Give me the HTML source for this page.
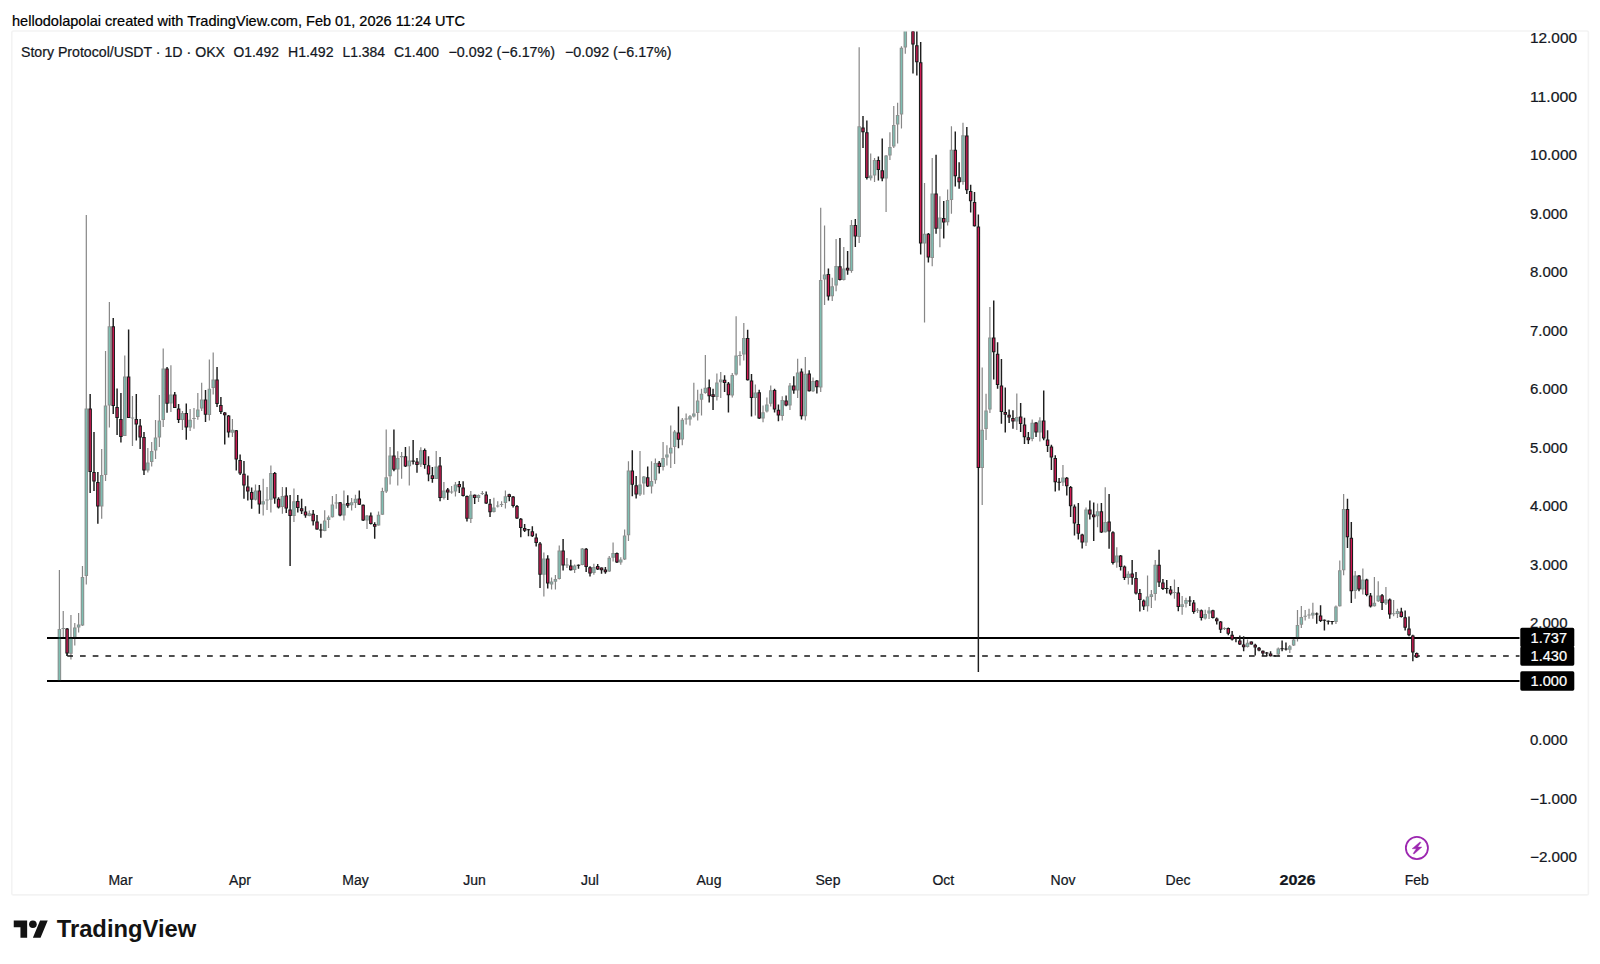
<!DOCTYPE html>
<html><head><meta charset="utf-8"><title>Story Protocol/USDT chart</title>
<style>html,body{margin:0;padding:0;background:#fff}svg{display:block}text{font-family:"Liberation Sans",sans-serif;stroke-width:.22px;paint-order:stroke}.d{stroke:#131722}.k{stroke:#000}.w{stroke:#fff}</style></head><body>
<svg width="1600" height="964" viewBox="0 0 1600 964">
<rect width="1600" height="964" fill="#fff"/>
<defs><clipPath id="cp"><rect x="12" y="31.5" width="1576" height="863"/></clipPath></defs>
<text class="k" x="12" y="25.5" font-size="14.3" fill="#000" textLength="453" lengthAdjust="spacingAndGlyphs">hellodolapolai created with TradingView.com, Feb 01, 2026 11:24 UTC</text>
<rect x="11.8" y="31" width="1576.6" height="863.9" rx="1.5" fill="none" stroke="#f3f3f3" stroke-width="1.6"/>
<text class="d" x="21" y="56.6" font-size="14" fill="#131722" textLength="204" lengthAdjust="spacingAndGlyphs">Story Protocol/USDT · 1D · OKX</text>
<text class="d" x="233.5" y="56.6" font-size="14" fill="#131722" textLength="45.5" lengthAdjust="spacingAndGlyphs">O1.492</text>
<text class="d" x="288" y="56.6" font-size="14" fill="#131722" textLength="45.5" lengthAdjust="spacingAndGlyphs">H1.492</text>
<text class="d" x="342.5" y="56.6" font-size="14" fill="#131722" textLength="42.5" lengthAdjust="spacingAndGlyphs">L1.384</text>
<text class="d" x="394" y="56.6" font-size="14" fill="#131722" textLength="45" lengthAdjust="spacingAndGlyphs">C1.400</text>
<text class="d" x="448.5" y="56.6" font-size="14" fill="#131722" textLength="106.5" lengthAdjust="spacingAndGlyphs">−0.092 (−6.17%)</text>
<text class="d" x="565" y="56.6" font-size="14" fill="#131722" textLength="106.5" lengthAdjust="spacingAndGlyphs">−0.092 (−6.17%)</text>
<g clip-path="url(#cp)">
<path d="M47 638H1519.5M47 681H1519.5" stroke="#000" stroke-width="2.1" fill="none"/>
<path d="M67.3 656H1519.5" stroke="#151515" stroke-width="1.3" stroke-dasharray="5.7 7.006" fill="none"/>
<path d="M67 653V656" stroke="#1e1e1e" stroke-width="1.1" fill="none"/>
<g opacity="0.5">
<path d="M59.4 570V681M63.24 611V637.5M70.94 615V659.4M74.78 623V645.6M78.62 613V632.5M82.47 566V626M86.31 215V584.4M101.69 449V518.75M105.54 351V481M109.38 302V427.5M124.77 355.6V436M132.46 396V446M147.84 448V472.5M151.68 442V466.5M155.53 420V459M159.37 395V447M163.22 348.5V427M170.91 365.25V412M182.44 411V430M190.13 409V431M193.98 408V428.75M197.82 393V419.75M201.67 382.75V411M209.36 359.4V420.6M213.2 352.5V394.4M232.43 419V437M255.5 484.4V500.5M263.19 478.75V515.6M267.03 487V510M270.88 465.6V512.5M282.41 487V513.75M293.94 488.5V522M309.32 510.6V516.25M324.7 510.25V531.25M328.55 515.6V528M332.39 496V517.5M336.24 494V508.75M343.93 490.6V520.6M351.62 498V510.6M355.46 494.75V508M367 515V529M378.53 511.5V525.6M382.38 487.75V514.75M386.22 429.4V493M390.07 447V484.4M397.76 451.25V485.6M401.61 452V478.75M409.3 446.25V485.6M420.83 447.25V467M436.21 451V479M443.9 482V499.4M451.59 486V493.75M455.44 482V496.5M470.81 491V523M478.5 494.4V502M482.35 491V495M493.88 497.75V512.5M497.73 501.25V507.5M501.57 501.25V507M505.42 490.6V508.5M543.87 552.5V596.5M551.56 577.5V589.4M555.41 575V589.4M559.25 545.6V579.5M566.94 558V568M574.63 564.4V573M582.32 548V565.25M593.86 563.75V574.75M609.24 556V572M613.08 542.5V561.5M620.77 557.25V564.75M624.62 529.4V560M628.46 461.25V541M640 451V496M643.84 476V494.75M651.53 461.25V493.5M655.38 458.5V483.75M663.07 442V470.6M666.91 445.25V465.6M670.75 425.6V468M674.6 430V464M682.29 418V445.3M686.13 413.5V424.4M689.98 415V425.6M693.83 382.75V417.5M697.67 389.75V420.6M701.51 388.75V415.6M705.36 355V393.75M716.89 373.5V400.6M720.74 372V398M732.27 373V397.5M736.12 316.25V375.6M739.97 351.25V365.6M743.81 323V360.6M755.35 384.4V415.6M763.03 405.6V422.25M766.88 397.5V412.5M770.73 385.6V406.5M782.26 396.25V420.6M789.95 383V410M797.64 358.75V398M805.33 357V420.6M813.02 377.5V392M820.71 207.75V392M824.56 225.6V305M832.25 277.75V301M836.09 239V291.25M843.78 247V280.5M851.47 220V272.75M859.16 47.25V243M870.7 153.5V180.6M874.54 158V182M886.08 155V212M889.92 132.25V160M893.76 106V148M897.61 102.75V143.5M901.46 46.25V128.5M905.3 10V53.75M909.14 -40V10M924.52 183V322.5M932.22 158V266.25M939.9 196.25V247.25M947.6 189.4V225.6M951.44 126.25V213.75M962.98 122.75V184.75M982.2 367.5V505M986.05 393.75V440M989.89 307V413M1016.81 393.5V430M1032.19 419.4V441.25M1039.88 417.25V441.5M1062.95 465V486M1086.02 507.5V546M1097.55 503.5V527.25M1105.24 487.25V532.5M1116.78 547.25V567.75M1128.31 571.25V584.4M1147.54 575.6V611.5M1151.38 590V608M1155.23 560V600.6M1174.45 579.4V598.75M1182.14 596V614.75M1185.99 597.75V607.5M1197.52 608V613M1205.21 609.75V619.4M1209.06 606.9V619M1224.44 627.25V630M1247.51 639.4V647.5M1278.27 647.5V656.25M1289.8 645V653M1293.65 638.75V646M1297.49 610V641.5M1301.34 606V628M1305.18 610V620.6M1309.03 608.75V618.75M1312.87 602.75V618.75M1335.94 605.6V624M1339.79 560.6V606.5M1343.63 494V575.25M1355.17 571V598.75M1362.86 568.5V594.6M1374.39 577V606.5M1378.24 581.25V601.9M1385.93 587V605M1393.62 600V616.25M1397.46 608.75V618" stroke="#101010" stroke-width="1.2" fill="none"/>
<path d="M59.4 629V681M63.24 627.9V629.1M70.94 637.5V653.7M74.78 627.5V637.5M78.62 624.6V627.4M82.47 577V625.6M86.31 408.5V576M101.69 475V506.5M105.54 405.6V475M109.38 326.25V405.6M124.77 376.5V436M132.46 417.4V418.6M147.84 462.5V470.6M151.68 451V462M155.53 437.5V450.6M159.37 420.6V437.5M163.22 368.5V420M170.91 394.5V403.5M182.44 413V420M190.13 419.75V427.5M193.98 417.9V419.1M197.82 409.4V417M201.67 399.4V408.5M209.36 388.75V415M213.2 379.4V388M232.43 429.85V432.65M255.5 490.6V499.75M263.19 501.25V504.4M267.03 499.4V500.6M270.88 473V499.75M282.41 496V507M293.94 501.25V516M309.32 513.27V516.07M324.7 520.6V531M328.55 517.23V520.02M332.39 504.4V517.25M336.24 502.4V503.6M343.93 503.75V515.6M351.62 502.35V505.15M355.46 498.75V503M367 515.6V520.6M378.53 514.75V525.6M382.38 491V514.75M386.22 477.25V491.5M390.07 455.6V476.25M397.76 458V469.4M401.61 456.02V457.23M409.3 460.6V466.25M420.83 450.25V464.4M436.21 466.5V479M443.9 490.6V498M451.59 491.4V492.6M455.44 484.4V491.5M470.81 494.75V519M478.5 495V498M482.35 492.9V494.1M493.88 507.5V512M497.73 505.4V506.6M501.57 503.9V505.1M505.42 496.25V503M543.87 558.5V574.75M551.56 581.6V584.4M555.41 579.05V581.85M559.25 550.6V579M566.94 564.4V565.6M574.63 565.6V570M582.32 548.5V565M593.86 567V573M609.24 557.75V571.5M613.08 553V557.75M620.77 559.4V562.5M624.62 535.6V559.4M628.46 470.6V535.25M640 484.4V494.4M643.84 476.5V483.5M651.53 481V486.5M655.38 463V480.25M663.07 458V467M666.91 454.4V457.5M670.75 447.75V453.5M674.6 431.5V447M682.29 419.75V439.4M686.13 418.4V419.6M689.98 416.25V419.4M693.83 413.5V416.5M697.67 400.6V413M701.51 393.75V399.75M705.36 387.75V393M716.89 382.5V397M720.74 379.4V382.25M732.27 375V395.6M736.12 355.6V374.4M739.97 354.9V356.1M743.81 338V354.4M755.35 392.5V398M763.03 412.25V418.5M766.88 404.4V411.5M770.73 390.25V403.75M782.26 400V416M789.95 385.6V405.6M797.64 372.5V390.6M805.33 373.75V416.25M813.02 381V391.25M820.71 280V387.5M824.56 274.4V279.4M832.25 286.25V296.25M836.09 266V285.6M843.78 268.5V280M851.47 225V271M859.16 126.25V237M870.7 175.4V178.2M874.54 160V175.6M886.08 155.6V178.5M889.92 147V155.6M893.76 125V146.5M897.61 115V124.4M901.46 47.75V114.4M905.3 15V47.5M909.14 -30V5M924.52 233.75V243.5M932.22 193.5V258M939.9 217.5V228.75M947.6 200V222.25M951.44 149.75V200M962.98 135.25V182M982.2 429.75V468M986.05 410.6V429M989.89 337.5V409.4M1016.81 417V421.5M1032.19 422.75V439M1039.88 420.6V432.5M1062.95 477.5V482.5M1086.02 509.4V542.5M1097.55 511.25V516.25M1105.24 521.9V532.25M1116.78 555.6V562.5M1128.31 573.75V578M1147.54 596.5V606.25M1151.38 594.25V597.05M1155.23 564.75V594M1174.45 591.9V593.1M1182.14 604.25V607.05M1185.99 600V603.75M1197.52 609.65V610.85M1205.21 614V618.5M1209.06 610.6V613.5M1224.44 627.9V629.1M1247.51 642.75V646.9M1278.27 648.5V654.4M1289.8 646.25V649.75M1293.65 639.4V645.6M1297.49 625V638M1301.34 616.9V624.75M1305.18 615.65V616.85M1309.03 614.4V615.6M1312.87 612.73V615.52M1335.94 606.5V621.9M1339.79 570.25V606.25M1343.63 509V570.25M1355.17 575.6V591M1362.86 579.4V589.5M1374.39 602.75V606.25M1378.24 595.6V601.25M1385.93 599.4V603.5M1393.62 613.15V614.35M1397.46 611.1V613.9" stroke="#1c2422" stroke-width="3.5" fill="none"/>
<path d="M59.4 630V680M70.94 638.5V652.7M74.78 628.5V636.5M78.62 625.6V626.4M82.47 578V624.6M86.31 409.5V575M101.69 476V505.5M105.54 406.6V474M109.38 327.25V404.6M124.77 377.5V435M147.84 463.5V469.6M151.68 452V461M155.53 438.5V449.6M159.37 421.6V436.5M163.22 369.5V419M170.91 395.5V402.5M182.44 414V419M190.13 420.75V426.5M197.82 410.4V416M201.67 400.4V407.5M209.36 389.75V414M213.2 380.4V387M232.43 430.85V431.65M255.5 491.6V498.75M263.19 502.25V503.4M270.88 474V498.75M282.41 497V506M293.94 502.25V515M309.32 514.27V515.07M324.7 521.6V530M328.55 518.23V519.02M332.39 505.4V516.25M343.93 504.75V514.6M351.62 503.35V504.15M355.46 499.75V502M367 516.6V519.6M378.53 515.75V524.6M382.38 492V513.75M386.22 478.25V490.5M390.07 456.6V475.25M397.76 459V468.4M409.3 461.6V465.25M420.83 451.25V463.4M436.21 467.5V478M443.9 491.6V497M455.44 485.4V490.5M470.81 495.75V518M478.5 496V497M493.88 508.5V511M505.42 497.25V502M543.87 559.5V573.75M551.56 582.6V583.4M555.41 580.05V580.85M559.25 551.6V578M574.63 566.6V569M582.32 549.5V564M593.86 568V572M609.24 558.75V570.5M613.08 554V556.75M620.77 560.4V561.5M624.62 536.6V558.4M628.46 471.6V534.25M640 485.4V493.4M643.84 477.5V482.5M651.53 482V485.5M655.38 464V479.25M663.07 459V466M666.91 455.4V456.5M670.75 448.75V452.5M674.6 432.5V446M682.29 420.75V438.4M689.98 417.25V418.4M693.83 414.5V415.5M697.67 401.6V412M701.51 394.75V398.75M705.36 388.75V392M716.89 383.5V396M720.74 380.4V381.25M732.27 376V394.6M736.12 356.6V373.4M743.81 339V353.4M755.35 393.5V397M763.03 413.25V417.5M766.88 405.4V410.5M770.73 391.25V402.75M782.26 401V415M789.95 386.6V404.6M797.64 373.5V389.6M805.33 374.75V415.25M813.02 382V390.25M820.71 281V386.5M824.56 275.4V278.4M832.25 287.25V295.25M836.09 267V284.6M843.78 269.5V279M851.47 226V270M859.16 127.25V236M870.7 176.4V177.2M874.54 161V174.6M886.08 156.6V177.5M889.92 148V154.6M893.76 126V145.5M897.61 116V123.4M901.46 48.75V113.4M905.3 16V46.5M909.14 -29V4M924.52 234.75V242.5M932.22 194.5V257M939.9 218.5V227.75M947.6 201V221.25M951.44 150.75V199M962.98 136.25V181M982.2 430.75V467M986.05 411.6V428M989.89 338.5V408.4M1016.81 418V420.5M1032.19 423.75V438M1039.88 421.6V431.5M1062.95 478.5V481.5M1086.02 510.4V541.5M1097.55 512.25V515.25M1105.24 522.9V531.25M1116.78 556.6V561.5M1128.31 574.75V577M1147.54 597.5V605.25M1151.38 595.25V596.05M1155.23 565.75V593M1182.14 605.25V606.05M1185.99 601V602.75M1205.21 615V617.5M1209.06 611.6V612.5M1247.51 643.75V645.9M1278.27 649.5V653.4M1289.8 647.25V648.75M1293.65 640.4V644.6M1297.49 626V637M1301.34 617.9V623.75M1312.87 613.73V614.52M1335.94 607.5V620.9M1339.79 571.25V605.25M1343.63 510V569.25M1355.17 576.6V590M1362.86 580.4V588.5M1374.39 603.75V605.25M1378.24 596.6V600.25M1385.93 600.4V602.5M1397.46 612.1V612.9" stroke="#008068" stroke-width="1.35" fill="none"/>
</g>
<path d="M67.09 628V656M90.16 394V493M94 432V491M97.85 472V523.75M113.23 318V414M117.08 388.5V435M120.92 393V442.5M128.61 329.4V418M136.3 394V440.6M140.15 419V449M143.99 432V475M167.06 367V412.75M174.75 392V408M178.59 404V423M186.28 403.5V439.75M205.51 390V422M217.05 367V407M220.89 397V414M224.74 412V444.4M228.58 415V437.5M236.27 430V470.6M240.12 454.4V475M243.96 461V498.75M247.81 475.6V500.6M251.65 487.5V508.75M259.34 485V513.75M274.72 472V503.75M278.56 497.25V508.5M286.25 487.25V513M290.1 495V566M297.79 495V512.5M301.63 498.75V514M305.48 506.25V517.75M313.17 510V525.6M317.01 515V529.75M320.86 523.75V537.75M340.08 501.9V516.25M347.77 495.25V507.75M359.31 490.6V505M363.15 504.4V521M370.84 512.5V524.4M374.69 522.25V538.75M393.92 429.4V471.25M405.45 447V467M413.14 440V464.4M416.99 458V472.75M424.68 448.5V468.75M428.52 456.25V481.25M432.37 467V482.75M440.06 457V501.25M447.75 488V500M459.28 481V493M463.12 481.25V496.5M466.97 495.6V521.5M474.66 494.4V504M486.19 491.5V504M490.04 499V517M509.26 493.75V501.25M513.11 496V507.5M516.96 505V519M520.8 518V537.25M524.64 524V532M528.49 529V536.25M532.34 526.25V537M536.18 533.5V546.5M540.02 542V588M547.72 555.25V588.5M563.1 539V570.6M570.79 559.75V570.5M578.48 564.5V568.75M586.16 548V572M590.01 566.25V576.5M597.7 564V570M601.54 567.48V573.75M605.39 567V573.75M616.92 552.5V563M632.3 450.25V496.25M636.15 476V498.5M647.69 466.5V487M659.22 461V473.5M678.45 406.5V448.25M709.21 379.4V402.5M713.05 388.75V410M724.59 375.25V392M728.43 382V412.5M747.65 329.75V380.6M751.5 374V416.5M759.19 389.75V419M774.57 388.75V412.5M778.41 404.4V421.25M786.11 395.6V406.25M793.79 376.25V393.75M801.49 368.5V419.4M809.18 370.25V391.5M816.87 380V393.5M828.4 268.5V300.6M839.94 238V280.5M847.62 251V274.75M855.32 219V247M863 116V148M866.85 120.6V179.4M878.38 156.5V180.6M882.23 138.5V181.25M912.99 5V73.5M916.84 20V75.6M920.68 42V254.4M928.37 233V262.5M936.06 154.75V233.75M943.75 201V238.5M955.28 131.5V186.5M959.13 162.25V188.75M966.82 127V194M970.67 184.75V212.5M974.51 192V226.5M978.36 214.4V672M993.74 300.6V379.4M997.58 342.25V388.75M1001.43 359V423.75M1005.27 387.5V432.5M1009.12 409.4V423M1012.96 410.25V428.75M1020.65 403V432M1024.5 417.75V444M1028.34 432V444M1036.03 422V437M1043.72 390.6V440.25M1047.57 430.25V452M1051.41 444.75V470M1055.26 455.25V491.5M1059.1 478V490.6M1066.79 477V495.6M1070.63 486V517M1074.48 504.4V535.6M1078.33 503V539.4M1082.17 533.75V548.5M1089.86 500.6V519.4M1093.71 502.5V541M1101.4 503V533M1109.09 494V548.75M1112.93 531.25V564.4M1120.62 555V570.6M1124.47 565.6V580M1132.16 560V584.75M1136 571.9V594.4M1139.85 589V611.5M1143.69 599.4V610M1159.07 549.75V586.9M1162.92 579V590M1166.76 580V593.5M1170.61 586V595.25M1178.3 586.9V611.25M1189.83 596.25V606M1193.68 600V613.75M1201.37 609.4V620.6M1212.9 609.75V618.5M1216.75 617.5V624.4M1220.59 621V633M1228.28 627.5V635.25M1232.13 631V640.6M1235.97 637.5V642.25M1239.82 635.6V645M1243.66 636.25V651.25M1251.35 641.5V644.4M1255.2 643.75V655.6M1259.04 646.9V651.25M1262.89 650.6V656M1266.73 651.9V656M1270.58 651.25V656.5M1274.42 655V656.6M1282.11 640.6V651.25M1285.96 642.5V650.6M1316.72 612.5V623.75M1320.56 605.25V621.9M1324.41 619.4V630.6M1328.25 620.6V624.4M1332.1 620.9V624.4M1347.48 498.75V548M1351.32 522V603M1359.01 575V591.25M1366.7 578.75V596.25M1370.55 593V607.5M1382.08 594V610M1389.77 598.5V618.75M1401.31 607.75V617.5M1405.15 610.6V630.6M1409 616.5V636.25M1412.84 634.75V661.25M1416.69 652.5V658.1" stroke="#1e1e1e" stroke-width="1.45" fill="none"/>
<path d="M67.09 628.5V653.5M90.16 408.5V472M94 472V481.5M97.85 482V506.5M113.23 326.25V406M117.08 407V418M120.92 419V437M128.61 376.5V418M136.3 419V424.4M140.15 425.6V437.5M143.99 437V470.6M167.06 368.5V403.75M174.75 394.5V408M178.59 408.5V420M186.28 413V427.5M205.51 399.4V414.75M217.05 379.4V404M220.89 405V412M224.74 412.48V415.27M228.58 415.6V432.5M236.27 430.25V459.4M240.12 460V473.5M243.96 473.75V485.6M247.81 486.5V491.5M251.65 492V499.75M259.34 490.6V504.4M274.72 473V498.5M278.56 498.75V507.5M286.25 495.6V508.5M290.1 509.4V516M297.79 501V508M301.63 508.35V511.15M305.48 511.5V515.6M313.17 513.75V521.25M317.01 521.5V529.4M320.86 529.4V530.6M340.08 502.25V515.6M347.77 502.98V505.77M359.31 498.5V504.75M363.15 504.75V520.6M370.84 515.6V524M374.69 523.93V526.73M393.92 455.6V469.75M405.45 456.25V466.5M413.14 460.45V461.65M416.99 461.5V465M424.68 450V465M428.52 465.25V474.4M432.37 475.25V479M440.06 465.6V498M447.75 489.4V492.5M459.28 484V487.25M463.12 487.5V496M466.97 496V518.75M474.66 494.75V498M486.19 494.4V503.5M490.04 503.75V512.25M509.26 494.23V497.02M513.11 496.5V506M516.96 506V518.5M520.8 518.75V528M524.64 527.98V530.77M528.49 529.15V530.35M532.34 531.25V536.25M536.18 537.5V543M540.02 543.5V574.75M547.72 558.5V583.5M563.1 550.6V565.6M570.79 565.6V570.25M578.48 564.65V565.85M586.16 548.75V567M590.01 567.25V573.5M597.7 566V569.4M601.54 567.48V570.27M605.39 569.4V572.25M616.92 553V562.5M632.3 470.6V484.75M636.15 485.25V494.4M647.69 477.25V486.5M659.22 462.75V467M678.45 432.5V439.75M709.21 387.25V396.25M713.05 394.23V397.02M724.59 379.75V383M728.43 383.5V395.25M747.65 338V380.25M751.5 380.6V398M759.19 392.25V418.5M774.57 390V409.4M778.41 409.75V415.6M786.11 400.6V405.6M793.79 385.6V390.6M801.49 371.5V416.25M809.18 373.5V391.25M816.87 380.6V387.25M828.4 274V296.5M839.94 266.25V280M847.62 267.73V270.52M855.32 225V236.5M863 127.5V132.25M866.85 132.25V178M878.38 160V170M882.23 170.25V178.5M912.99 10V44.4M916.84 45.25V62.25M920.68 62.25V243.5M928.37 233.75V257.5M936.06 193.5V228.75M943.75 218V222.5M955.28 149.75V176.25M959.13 177.25V182.25M966.82 135.6V190.25M970.67 191V201.25M974.51 202V226.25M978.36 226.5V468M993.74 337.5V352.25M997.58 353.75V385M1001.43 385.6V411.9M1005.27 412.05V414.85M1009.12 414.73V417.52M1012.96 418V421.5M1020.65 416.5V424M1024.5 424.4V437.25M1028.34 437.35V440.15M1036.03 422.5V432.5M1043.72 420.6V438.5M1047.57 439.4V446M1051.41 446.5V457.5M1055.26 458V482.25M1059.1 481.65V482.85M1066.79 477.75V486.25M1070.63 486.9V506.25M1074.48 506.5V523.5M1078.33 524V533.75M1082.17 534.4V542.5M1089.86 509.4V514.4M1093.71 514.43V517.23M1101.4 511.25V532.5M1109.09 521.5V531.5M1112.93 532.25V563M1120.62 555.6V566.9M1124.47 566.5V578M1132.16 573.5V577.75M1136 578V593.5M1139.85 593V600M1143.69 600.6V606.5M1159.07 564.75V582.5M1162.92 582.5V589M1166.76 587.9V589.1M1170.61 589.4V593.75M1178.3 592.5V606.9M1189.83 600.4V601.6M1193.68 602.5V611.9M1201.37 610.25V618M1212.9 610.25V618M1216.75 618.48V621.27M1220.59 621.5V629.75M1228.28 628V633.75M1232.13 634.75V639.4M1235.97 637.9V639.1M1239.82 640.6V644.4M1243.66 644.4V647.25M1251.35 641.6V644.4M1255.2 644.73V647.52M1259.04 647.75V650.6M1262.89 650.73V653.52M1266.73 652.4V653.6M1270.58 653.48V656.27M1274.42 655.4V656.6M1282.11 648.15V649.35M1285.96 648.4V649.6M1316.72 613.4V614.6M1320.56 615.6V621M1324.41 619.65V620.85M1328.25 620.65V621.85M1332.1 620.9V622.1M1347.48 509V537.25M1351.32 537.75V591.25M1359.01 575.4V589.5M1366.7 579.4V595.1M1370.55 595.6V606.5M1382.08 595.25V603M1389.77 599.4V614.4M1401.31 611.5V616.9M1405.15 617.25V627.75M1409 628.5V635.25M1412.84 635.6V652.5M1416.69 653V657.5" stroke="#1a1a1a" stroke-width="3.5" fill="none"/>
<path d="M67.09 629.5V652.5M90.16 409.5V471M94 473V480.5M97.85 483V505.5M113.23 327.25V405M117.08 408V417M120.92 420V436M128.61 377.5V417M136.3 420V423.4M140.15 426.6V436.5M143.99 438V469.6M167.06 369.5V402.75M174.75 395.5V407M178.59 409.5V419M186.28 414V426.5M205.51 400.4V413.75M217.05 380.4V403M220.89 406V411M224.74 413.48V414.27M228.58 416.6V431.5M236.27 431.25V458.4M240.12 461V472.5M243.96 474.75V484.6M247.81 487.5V490.5M251.65 493V498.75M259.34 491.6V503.4M274.72 474V497.5M278.56 499.75V506.5M286.25 496.6V507.5M290.1 510.4V515M297.79 502V507M301.63 509.35V510.15M305.48 512.5V514.6M313.17 514.75V520.25M317.01 522.5V528.4M340.08 503.25V514.6M347.77 503.98V504.77M359.31 499.5V503.75M363.15 505.75V519.6M370.84 516.6V523M374.69 524.93V525.73M393.92 456.6V468.75M405.45 457.25V465.5M416.99 462.5V464M424.68 451V464M428.52 466.25V473.4M432.37 476.25V478M440.06 466.6V497M447.75 490.4V491.5M459.28 485V486.25M463.12 488.5V495M466.97 497V517.75M474.66 495.75V497M486.19 495.4V502.5M490.04 504.75V511.25M509.26 495.23V496.02M513.11 497.5V505M516.96 507V517.5M520.8 519.75V527M524.64 528.98V529.77M532.34 532.25V535.25M536.18 538.5V542M540.02 544.5V573.75M547.72 559.5V582.5M563.1 551.6V564.6M570.79 566.6V569.25M586.16 549.75V566M590.01 568.25V572.5M597.7 567V568.4M601.54 568.48V569.27M605.39 570.4V571.25M616.92 554V561.5M632.3 471.6V483.75M636.15 486.25V493.4M647.69 478.25V485.5M659.22 463.75V466M678.45 433.5V438.75M709.21 388.25V395.25M713.05 395.23V396.02M724.59 380.75V382M728.43 384.5V394.25M747.65 339V379.25M751.5 381.6V397M759.19 393.25V417.5M774.57 391V408.4M778.41 410.75V414.6M786.11 401.6V404.6M793.79 386.6V389.6M801.49 372.5V415.25M809.18 374.5V390.25M816.87 381.6V386.25M828.4 275V295.5M839.94 267.25V279M847.62 268.73V269.52M855.32 226V235.5M863 128.5V131.25M866.85 133.25V177M878.38 161V169M882.23 171.25V177.5M912.99 11V43.4M916.84 46.25V61.25M920.68 63.25V242.5M928.37 234.75V256.5M936.06 194.5V227.75M943.75 219V221.5M955.28 150.75V175.25M959.13 178.25V181.25M966.82 136.6V189.25M970.67 192V200.25M974.51 203V225.25M978.36 227.5V467M993.74 338.5V351.25M997.58 354.75V384M1001.43 386.6V410.9M1005.27 413.05V413.85M1009.12 415.73V416.52M1012.96 419V420.5M1020.65 417.5V423M1024.5 425.4V436.25M1028.34 438.35V439.15M1036.03 423.5V431.5M1043.72 421.6V437.5M1047.57 440.4V445M1051.41 447.5V456.5M1055.26 459V481.25M1066.79 478.75V485.25M1070.63 487.9V505.25M1074.48 507.5V522.5M1078.33 525V532.75M1082.17 535.4V541.5M1089.86 510.4V513.4M1093.71 515.43V516.23M1101.4 512.25V531.5M1109.09 522.5V530.5M1112.93 533.25V562M1120.62 556.6V565.9M1124.47 567.5V577M1132.16 574.5V576.75M1136 579V592.5M1139.85 594V599M1143.69 601.6V605.5M1159.07 565.75V581.5M1162.92 583.5V588M1170.61 590.4V592.75M1178.3 593.5V605.9M1193.68 603.5V610.9M1201.37 611.25V617M1212.9 611.25V617M1216.75 619.48V620.27M1220.59 622.5V628.75M1228.28 629V632.75M1232.13 635.75V638.4M1239.82 641.6V643.4M1243.66 645.4V646.25M1251.35 642.6V643.4M1255.2 645.73V646.52M1259.04 648.75V649.6M1262.89 651.73V652.52M1270.58 654.48V655.27M1320.56 616.6V620M1347.48 510V536.25M1351.32 538.75V590.25M1359.01 576.4V588.5M1366.7 580.4V594.1M1370.55 596.6V605.5M1382.08 596.25V602M1389.77 600.4V613.4M1401.31 612.5V615.9M1405.15 618.25V626.75M1409 629.5V634.25M1412.84 636.6V651.5M1416.69 654V656.5" stroke="#d01a54" stroke-width="1.35" fill="none"/>
</g>
<text class="d" x="1530" y="43" font-size="14" fill="#131722" textLength="47" lengthAdjust="spacingAndGlyphs">12.000</text>
<text class="d" x="1530" y="101.5" font-size="14" fill="#131722" textLength="47" lengthAdjust="spacingAndGlyphs">11.000</text>
<text class="d" x="1530" y="160" font-size="14" fill="#131722" textLength="47" lengthAdjust="spacingAndGlyphs">10.000</text>
<text class="d" x="1530" y="218.5" font-size="14" fill="#131722" textLength="37.5" lengthAdjust="spacingAndGlyphs">9.000</text>
<text class="d" x="1530" y="277" font-size="14" fill="#131722" textLength="37.5" lengthAdjust="spacingAndGlyphs">8.000</text>
<text class="d" x="1530" y="335.5" font-size="14" fill="#131722" textLength="37.5" lengthAdjust="spacingAndGlyphs">7.000</text>
<text class="d" x="1530" y="394" font-size="14" fill="#131722" textLength="37.5" lengthAdjust="spacingAndGlyphs">6.000</text>
<text class="d" x="1530" y="452.5" font-size="14" fill="#131722" textLength="37.5" lengthAdjust="spacingAndGlyphs">5.000</text>
<text class="d" x="1530" y="511" font-size="14" fill="#131722" textLength="37.5" lengthAdjust="spacingAndGlyphs">4.000</text>
<text class="d" x="1530" y="569.5" font-size="14" fill="#131722" textLength="37.5" lengthAdjust="spacingAndGlyphs">3.000</text>
<text class="d" x="1530" y="628" font-size="14" fill="#131722" textLength="37.5" lengthAdjust="spacingAndGlyphs">2.000</text>
<text class="d" x="1530" y="745" font-size="14" fill="#131722" textLength="37.5" lengthAdjust="spacingAndGlyphs">0.000</text>
<text class="d" x="1530" y="803.5" font-size="14" fill="#131722" textLength="47" lengthAdjust="spacingAndGlyphs">−1.000</text>
<text class="d" x="1530" y="862" font-size="14" fill="#131722" textLength="47" lengthAdjust="spacingAndGlyphs">−2.000</text>
<rect x="1520.3" y="627.8" width="54" height="19.4" rx="1.6" fill="#000"/>
<text class="w" x="1530.6" y="642.5" font-size="14" fill="#fff" textLength="36.5" lengthAdjust="spacingAndGlyphs">1.737</text>
<rect x="1520.3" y="646.3" width="54" height="19.4" rx="1.6" fill="#000"/>
<text class="w" x="1530.6" y="661" font-size="14" fill="#fff" textLength="36.5" lengthAdjust="spacingAndGlyphs">1.430</text>
<rect x="1520.3" y="671.3" width="54" height="19.4" rx="1.6" fill="#000"/>
<text class="w" x="1530.6" y="686" font-size="14" fill="#fff" textLength="36.5" lengthAdjust="spacingAndGlyphs">1.000</text>
<text class="d" x="120.5" y="884.6" font-size="14" fill="#131722" text-anchor="middle">Mar</text>
<text class="d" x="240" y="884.6" font-size="14" fill="#131722" text-anchor="middle">Apr</text>
<text class="d" x="355.5" y="884.6" font-size="14" fill="#131722" text-anchor="middle">May</text>
<text class="d" x="474.5" y="884.6" font-size="14" fill="#131722" text-anchor="middle">Jun</text>
<text class="d" x="590" y="884.6" font-size="14" fill="#131722" text-anchor="middle">Jul</text>
<text class="d" x="709" y="884.6" font-size="14" fill="#131722" text-anchor="middle">Aug</text>
<text class="d" x="828" y="884.6" font-size="14" fill="#131722" text-anchor="middle">Sep</text>
<text class="d" x="943.3" y="884.6" font-size="14" fill="#131722" text-anchor="middle">Oct</text>
<text class="d" x="1063" y="884.6" font-size="14" fill="#131722" text-anchor="middle">Nov</text>
<text class="d" x="1178" y="884.6" font-size="14" fill="#131722" text-anchor="middle">Dec</text>
<text class="d" x="1297.5" y="884.6" font-size="14" fill="#131722" text-anchor="middle" font-weight="bold" textLength="36" lengthAdjust="spacingAndGlyphs">2026</text>
<text class="d" x="1416.7" y="884.6" font-size="14" fill="#131722" text-anchor="middle">Feb</text>
<circle cx="1416.9" cy="848" r="11.05" fill="none" stroke="#9c27b0" stroke-width="1.8"/>
<path d="M1419.9 842L1420.9 842.4L1417.7 847L1421.9 847.1L1414.1 854L1413.1 853.5L1416.3 848.8L1412.1 848.7Z" fill="#9c27b0" stroke="#9c27b0" stroke-width="0.4" stroke-linejoin="round"/>
<g transform="translate(13.75 916.6) scale(0.957)" fill="#131313"><path d="M14 22H7V11H0V4h14v18zM28 22h-8l7.5-18h8L28 22z"/><circle cx="20" cy="8" r="4"/></g>
<text x="56.7" y="937.1" font-size="23.4" font-weight="bold" fill="#131313" textLength="139.6" lengthAdjust="spacingAndGlyphs">TradingView</text>
</svg></body></html>
